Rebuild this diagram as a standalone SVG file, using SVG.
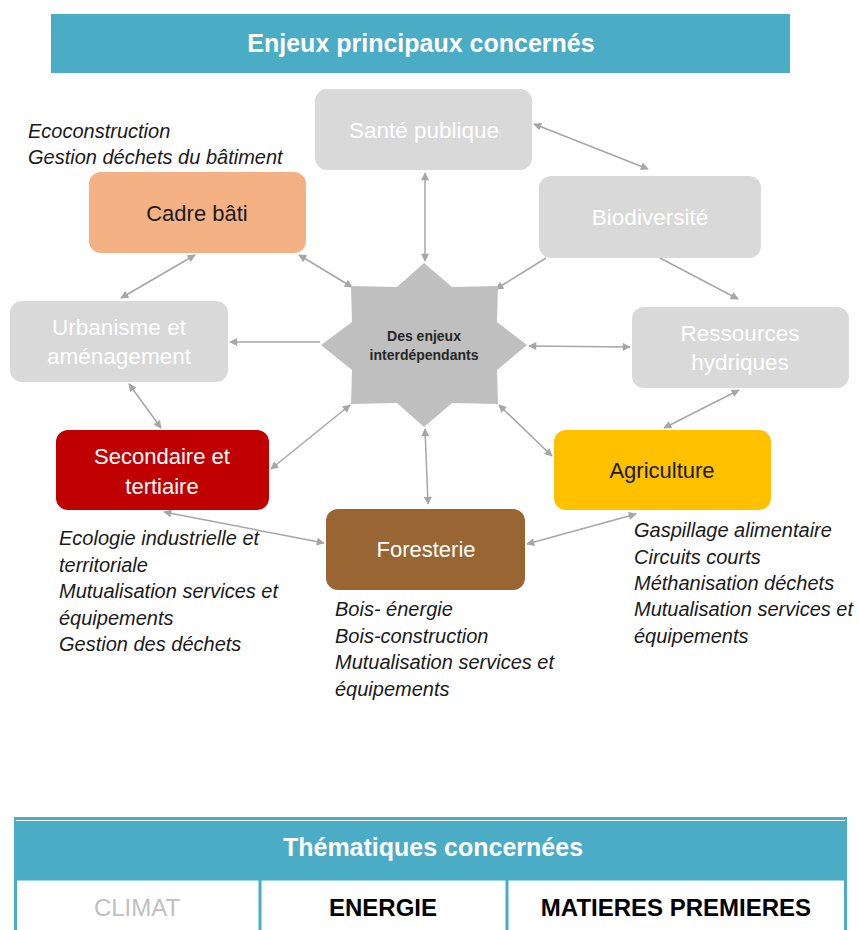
<svg xmlns="http://www.w3.org/2000/svg" width="859" height="930" viewBox="0 0 859 930">
  <defs>
    <marker id="arr" viewBox="0 0 10 10" refX="9" refY="5" markerWidth="9" markerHeight="8" markerUnits="userSpaceOnUse" orient="auto-start-reverse">
      <path d="M0,0 L10,5 L0,10 z" fill="#A6A6A6"/>
    </marker>
    <style>
      text { font-family: "Liberation Sans", Arial, sans-serif; }
      .band { fill: #4BACC6; }
      .head { fill: #FFFFFF; font-size: 25px; font-weight: bold; text-anchor: middle; }
      .soft rect { fill: #D9D9D9; }
      .soft text { fill: #FFFFFF; font-size: 22.5px; text-anchor: middle; }
      .lbl { font-size: 22px; text-anchor: middle; }
      .note { font-size: 20px; font-style: italic; fill: #1A1A1A; }
      .link { stroke: #A6A6A6; stroke-width: 1.5; fill: none; }
      .both { marker-start: url(#arr); marker-end: url(#arr); }
      .end { marker-end: url(#arr); }
      .cell { font-size: 24px; text-anchor: middle; }
    </style>
  </defs>

  <rect width="859" height="930" fill="#FFFFFF"/>

  <!-- title banner -->
  <g id="title">
    <rect class="band" x="51" y="14" width="739" height="59"/>
    <text class="head" x="421" y="52">Enjeux principaux concernés</text>
  </g>

  <!-- connectors -->
  <g id="connectors">
    <line class="link both" x1="425" y1="173" x2="425" y2="261"/>
    <line class="link both" x1="534" y1="124" x2="648" y2="169"/>
    <line class="link end" x1="546" y1="258" x2="496" y2="289"/>
    <line class="link end" x1="660" y1="258" x2="738" y2="299"/>
    <line class="link both" x1="529" y1="346" x2="630" y2="347"/>
    <line class="link both" x1="664" y1="428" x2="739" y2="390"/>
    <line class="link both" x1="499" y1="405" x2="552" y2="456"/>
    <line class="link both" x1="425" y1="429" x2="428" y2="504"/>
    <line class="link both" x1="350" y1="405" x2="271" y2="469"/>
    <line class="link both" x1="527" y1="544" x2="636" y2="514"/>
    <line class="link both" x1="164" y1="512" x2="324" y2="543"/>
    <line class="link both" x1="129" y1="384" x2="161" y2="428"/>
    <line class="link end" x1="320" y1="342" x2="230" y2="342"/>
    <line class="link both" x1="195" y1="255" x2="121" y2="298"/>
    <line class="link both" x1="299" y1="255" x2="352" y2="287"/>
  </g>

  <!-- central star -->
  <g id="centre">
    <polygon fill="#BFBFBF" points="424,263 452,287 498,286 497,322 527,345 497,370 498,404 452,403 424,427 397,403 351,404 352,370 321,345 352,322 351,286 397,287"/>
    <text x="424" y="341" font-size="14" font-weight="bold" fill="#262626" text-anchor="middle">Des enjeux</text>
    <text x="424" y="360" font-size="14" font-weight="bold" fill="#262626" text-anchor="middle">interdépendants</text>
  </g>

  <!-- muted themes -->
  <g id="sante" class="soft">
    <rect x="315" y="89" width="217" height="81" rx="12"/>
    <text x="424" y="138">Santé publique</text>
  </g>
  <g id="biodiversite" class="soft">
    <rect x="539" y="176" width="222" height="82" rx="12"/>
    <text x="650" y="225">Biodiversité</text>
  </g>
  <g id="ressources" class="soft">
    <rect x="632" y="307" width="217" height="81" rx="12"/>
    <text x="740" y="341">Ressources</text>
    <text x="740" y="370">hydriques</text>
  </g>
  <g id="urbanisme" class="soft">
    <rect x="10" y="301" width="218" height="81" rx="12"/>
    <text x="119" y="335">Urbanisme et</text>
    <text x="119" y="364">aménagement</text>
  </g>

  <!-- highlighted themes -->
  <g id="cadre">
    <rect x="89" y="172" width="217" height="81" rx="12" fill="#F4B183"/>
    <text class="lbl" x="197" y="221" fill="#1A1A1A">Cadre bâti</text>
    <text class="note" x="28" y="138">Ecoconstruction</text>
    <text class="note" x="28" y="164">Gestion déchets du bâtiment</text>
  </g>
  <g id="secondaire">
    <rect x="56" y="430" width="213" height="80" rx="12" fill="#C00000"/>
    <text class="lbl" x="162" y="464" fill="#FFFFFF">Secondaire et</text>
    <text class="lbl" x="162" y="494" fill="#FFFFFF">tertiaire</text>
    <text class="note" x="59" y="545">Ecologie industrielle et</text>
    <text class="note" x="59" y="572">territoriale</text>
    <text class="note" x="59" y="598">Mutualisation services et</text>
    <text class="note" x="59" y="625">équipements</text>
    <text class="note" x="59" y="651">Gestion des déchets</text>
  </g>
  <g id="foresterie">
    <rect x="326" y="509" width="199" height="81" rx="12" fill="#996633"/>
    <text class="lbl" x="426" y="557" fill="#FFFFFF">Foresterie</text>
    <text class="note" x="335" y="616">Bois- énergie</text>
    <text class="note" x="335" y="643">Bois-construction</text>
    <text class="note" x="335" y="669">Mutualisation services et</text>
    <text class="note" x="335" y="696">équipements</text>
  </g>
  <g id="agriculture">
    <rect x="554" y="430" width="217" height="80" rx="12" fill="#FFC000"/>
    <text class="lbl" x="662" y="478" fill="#1A1A1A">Agriculture</text>
    <text class="note" x="634" y="537">Gaspillage alimentaire</text>
    <text class="note" x="634" y="564">Circuits courts</text>
    <text class="note" x="634" y="590">Méthanisation déchets</text>
    <text class="note" x="634" y="616">Mutualisation services et</text>
    <text class="note" x="634" y="643">équipements</text>
  </g>

  <!-- themes table -->
  <g id="thematiques">
    <rect class="band" x="14" y="817" width="833" height="62"/>
    <line x1="16" y1="820.5" x2="845" y2="820.5" stroke="#FFFFFF" stroke-width="1"/>
    <text class="head" x="433" y="856">Thématiques concernées</text>
    <rect x="15.5" y="879" width="830" height="60" fill="#FFFFFF" stroke="#4BACC6" stroke-width="3"/>
    <line x1="260" y1="879" x2="260" y2="930" stroke="#4BACC6" stroke-width="3"/>
    <line x1="507" y1="879" x2="507" y2="930" stroke="#4BACC6" stroke-width="3"/>
    <text class="cell" x="137" y="916" fill="#BFBFBF" font-size="25">CLIMAT</text>
    <text class="cell" x="383" y="916" fill="#000000" font-weight="bold">ENERGIE</text>
    <text class="cell" x="676" y="916" fill="#000000" font-weight="bold">MATIERES PREMIERES</text>
  </g>
</svg>
